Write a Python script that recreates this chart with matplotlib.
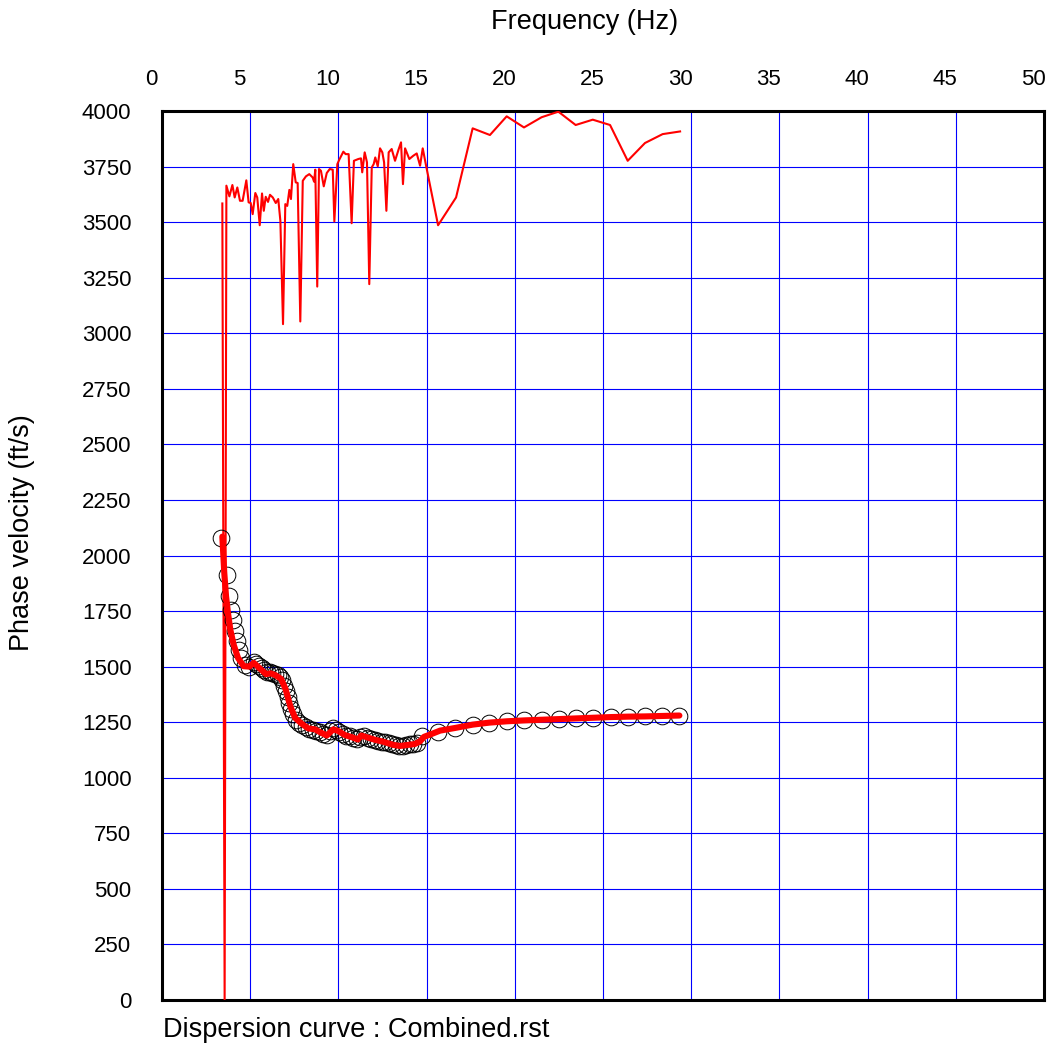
import matplotlib
matplotlib.use("Agg")
import matplotlib.pyplot as plt
from matplotlib.transforms import ScaledTranslation
from matplotlib.ticker import MultipleLocator

plt.rcParams["font.family"] = ["Liberation Sans", "DejaVu Sans"]

# Upper (higher-mode) trace: frequency (Hz) and phase velocity (ft/s)
upper_freq = [3.42, 3.55, 3.65, 3.82, 3.99, 4.12, 4.27, 4.42, 4.57, 4.78, 4.91, 5.03,
              5.14, 5.29, 5.40, 5.54, 5.67, 5.77, 5.88, 6.01, 6.12, 6.28, 6.45, 6.59,
              6.71, 6.86, 6.99, 7.10, 7.22, 7.31, 7.44, 7.58, 7.69, 7.84, 7.98, 8.16,
              8.35, 8.54, 8.62, 8.69, 8.80, 8.90, 9.01, 9.17, 9.34, 9.51, 9.68, 9.77,
              9.94, 10.05, 10.28, 10.41, 10.58, 10.75, 10.88, 11.13, 11.28, 11.35, 11.49,
              11.62, 11.75, 11.89, 12.00, 12.09, 12.23, 12.36, 12.49, 12.59, 12.72, 12.85,
              13.02, 13.21, 13.42, 13.55, 13.66, 13.78, 14.02, 14.25, 14.44, 14.63, 14.78,
              14.97, 15.65, 16.67, 17.61, 18.59, 19.54, 20.52, 21.52, 22.47, 23.45, 24.42,
              25.40, 26.40, 27.38, 28.38, 29.37]
upper_vel = [3584, 0, 3664, 3616, 3667, 3611, 3656, 3596, 3596, 3688, 3589, 3586,
             3536, 3631, 3611, 3486, 3629, 3551, 3614, 3591, 3623, 3611, 3586, 3604,
             3506, 3041, 3581, 3573, 3645, 3604, 3761, 3679, 3676, 3053, 3686, 3706,
             3716, 3701, 3682, 3736, 3210, 3739, 3731, 3661, 3721, 3739, 3736, 3503,
             3761, 3781, 3817, 3806, 3806, 3495, 3776, 3784, 3787, 3724, 3814,
             3769, 3221, 3746, 3761, 3791, 3751, 3832, 3814, 3769, 3551, 3814,
             3829, 3776, 3829, 3859, 3671, 3832, 3784, 3799, 3809, 3754, 3832,
             3754, 3486, 3611, 3922, 3892, 3976, 3926, 3972, 3997, 3937, 3961,
             3937, 3776, 3856, 3896, 3908]

# Picked dispersion points (fundamental mode)
pick_freq = [3.36, 3.68, 3.82, 3.93, 4.02, 4.16, 4.25, 4.35, 4.50, 4.69, 4.91, 5.20,
             5.35, 5.50, 5.65, 5.80, 5.95, 6.10, 6.25, 6.40, 6.55, 6.70, 6.82, 6.92,
             7.02, 7.12, 7.22, 7.32, 7.45, 7.60, 7.78, 7.95, 8.15, 8.35, 8.55, 8.75,
             8.95, 9.15, 9.35, 9.55, 9.70, 9.85, 10.05, 10.25, 10.45, 10.65, 10.85,
             11.05, 11.25, 11.45, 11.65, 11.85, 12.05, 12.25, 12.45, 12.65, 12.85,
             13.05, 13.25, 13.45, 13.65, 13.85, 14.05, 14.25, 14.45, 14.72, 15.63,
             16.61, 17.61, 18.55, 19.54, 20.52, 21.52, 22.52, 23.47, 24.45, 25.44,
             26.42, 27.38, 28.36, 29.33]
pick_vel = [2077, 1914, 1817, 1757, 1712, 1659, 1614, 1577, 1539, 1509, 1499, 1519,
            1512, 1505, 1492, 1484, 1478, 1475, 1470, 1468, 1462, 1452, 1438, 1415,
            1390, 1362, 1335, 1308, 1285, 1262, 1248, 1238, 1228, 1220, 1216, 1212,
            1206, 1198, 1192, 1210, 1222, 1215, 1205, 1196, 1190, 1186, 1180,
            1174, 1182, 1188, 1180, 1174, 1170, 1166, 1163, 1160, 1155,
            1150, 1147, 1143, 1145, 1148, 1150, 1152, 1156, 1190, 1204,
            1224, 1239, 1248, 1254, 1258, 1261, 1264, 1267, 1270, 1273,
            1275, 1276, 1278, 1280]

# Fitted dispersion curve
fit_freq = [3.42, 3.53, 3.63, 3.74, 3.87, 4.06, 4.31, 4.63, 4.95, 5.20, 5.50, 5.90,
            6.15, 6.42, 6.75, 7.00, 7.28, 7.55, 7.92, 8.29, 8.67, 8.96, 9.34, 9.71,
            10.00, 10.37, 10.75, 11.10, 11.30, 11.70, 12.07, 12.55, 13.11, 13.49,
            13.96, 14.34, 14.63, 14.85, 15.19, 15.76, 16.61, 17.61, 18.55, 19.54,
            20.52, 21.52, 22.52, 23.47, 24.45, 25.44, 26.42, 27.38, 28.36, 29.33]
fit_vel = [2085, 1922, 1817, 1742, 1667, 1599, 1539, 1502, 1500, 1517, 1495, 1466,
           1470, 1462, 1445, 1400, 1320, 1269, 1243, 1222, 1218, 1205, 1190, 1218,
           1210, 1192, 1183, 1172, 1190, 1180, 1171, 1162, 1148, 1143,
           1148, 1152, 1164, 1184, 1194, 1212, 1224, 1239, 1248, 1254,
           1258, 1261, 1264, 1267, 1270, 1273, 1275, 1276, 1278, 1280]

x_ticks = [0, 5, 10, 15, 20, 25, 30, 35, 40, 45, 50]
y_ticks = list(range(0, 4001, 250))

fig = plt.figure(figsize=(10.5, 10.48), dpi=100)
ax = fig.add_axes([0.15429, 0.04580, 0.84, 0.84828])

ax.plot(upper_freq, upper_vel, color="#ff0000", lw=1.5, zorder=3)
ax.plot(pick_freq, pick_vel, linestyle="none", marker="o", markersize=12,
        markerfacecolor="none", markeredgecolor="black", markeredgewidth=0.7, zorder=4)
ax.plot(fit_freq, fit_vel, color="#ff0000", lw=4.4, solid_capstyle="round", zorder=5)

ax.set_xlim(0, 50)
ax.set_ylim(0, 4000)
ax.set_xticks(x_ticks)
ax.set_yticks(y_ticks)
ax.xaxis.tick_top()
ax.grid(True, color="#0000ff", lw=0.8)
ax.set_axisbelow(True)
ax.tick_params(axis="both", length=0, labelsize=16)
ax.tick_params(axis="x", pad=15)
ax.tick_params(axis="y", pad=22)
for s in ax.spines.values():
    s.set_linewidth(2.2)
    s.set_color("black")

shift = ScaledTranslation(-11 / 100, 0, fig.dpi_scale_trans)
for lab in ax.xaxis.get_majorticklabels():
    lab.set_transform(lab.get_transform() + shift)

fig.text(584.5 / 1050, 1 - 22 / 1048, "Frequency (Hz)", ha="center", va="center", fontsize=19.5)
fig.text(22 / 1050, 1 - 533 / 1048, "Phase velocity (ft/s)", ha="center", va="center",
         rotation=90, fontsize=19.5)
fig.text(163 / 1050, 1 - 1030 / 1048, "Dispersion curve : Combined.rst", ha="left",
         va="center", fontsize=19.5)

fig.savefig("out.png", dpi=100)
